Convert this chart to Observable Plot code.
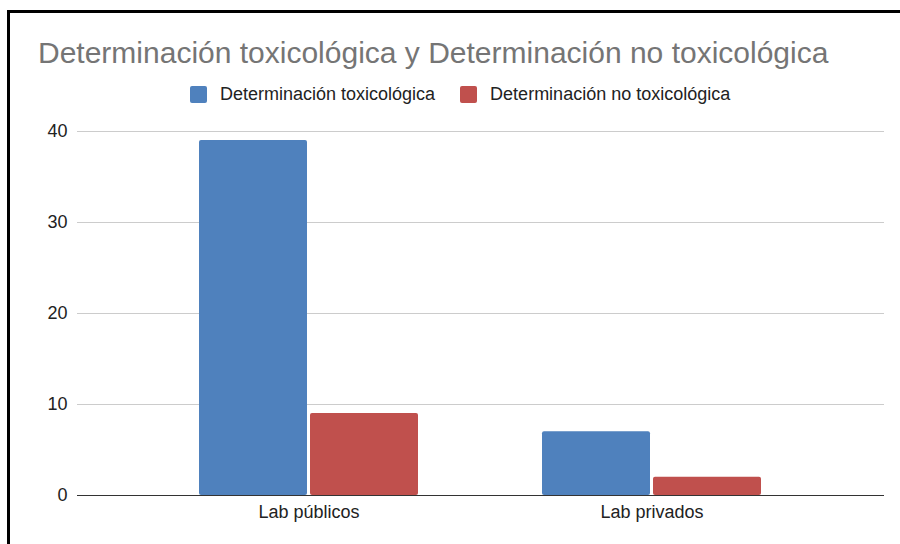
<!DOCTYPE html>
<html>
<head>
<meta charset="utf-8">
<script src="https://cdn.jsdelivr.net/npm/d3@7"></script>
<script src="https://cdn.jsdelivr.net/npm/@observablehq/plot@0.6"></script>
<style>
  html, body { margin: 0; padding: 0; background: #fff; width: 900px; height: 544px; overflow: hidden; }
  body { position: relative; font-family: "Liberation Sans", Arial, sans-serif; }
  #frame { position: absolute; left: 7px; top: 10px; width: 900px; height: 600px; border-left: 3px solid #000; border-top: 3px solid #000; box-sizing: border-box; }
  #title { position: absolute; left: 38px; top: 38px; font-size: 30px; line-height: 30px; color: #757575; white-space: nowrap; }
  #legend { position: absolute; left: 190px; top: 85px; display: flex; align-items: center; font-size: 18px; line-height: 18px; color: #222; white-space: nowrap; }
  .item { display: flex; align-items: center; }
  .sw { width: 17px; height: 17px; border-radius: 2px; margin-right: 13px; }
  #chart { position: absolute; left: 0; top: 100px; }
</style>
</head>
<body>
<div id="frame"></div>
<div id="title"></div>
<div id="legend"></div>
<div id="chart"></div>
<script>
const title = "Determinación toxicológica y Determinación no toxicológica";
const categories = ["Lab públicos", "Lab privados"];
const seriesNames = ["Determinación toxicológica", "Determinación no toxicológica"];
const toxicologica = [39, 7];
const noToxicologica = [9, 2];
const colors = ["#4f81bd", "#c0504d"];
const yTicks = [0, 10, 20, 30, 40];

document.getElementById("title").textContent = title;

const legend = document.getElementById("legend");
seriesNames.forEach((name, i) => {
  const item = document.createElement("div");
  item.className = "item";
  if (i > 0) item.style.marginLeft = "25px";
  const sw = document.createElement("div");
  sw.className = "sw";
  sw.style.background = colors[i];
  const label = document.createElement("span");
  label.textContent = name;
  item.appendChild(sw);
  item.appendChild(label);
  legend.appendChild(item);
});

const rows = categories.map((c, i) => ({cat: c, tox: toxicologica[i], noTox: noToxicologica[i]}));

const chart = Plot.plot({
  width: 900,
  height: 444,
  marginLeft: 77,
  marginRight: 16,
  marginTop: 31,
  marginBottom: 49,
  style: {fontFamily: "'Liberation Sans', Arial, sans-serif", fontSize: "18px", color: "#222", background: "transparent"},
  x: {domain: categories, paddingInner: 0.3615, paddingOuter: 0.357, label: null, tickSize: 0, tickPadding: 10},
  y: {domain: [0, 40], ticks: yTicks, label: null, tickSize: 0, tickPadding: 10},
  marks: [
    Plot.ruleY(yTicks.filter(t => t > 0), {stroke: "#cccccc", strokeWidth: 1}),
    Plot.barY(rows, {x: "cat", y: "tox", fill: colors[0], insetRight: 111, rx: 2}),
    Plot.barY(rows, {x: "cat", y: "noTox", fill: colors[1], insetLeft: 111, rx: 2}),
    Plot.ruleY([0], {stroke: "#333333", strokeWidth: 1})
  ]
});
document.getElementById("chart").appendChild(chart);
</script>
</body>
</html>
